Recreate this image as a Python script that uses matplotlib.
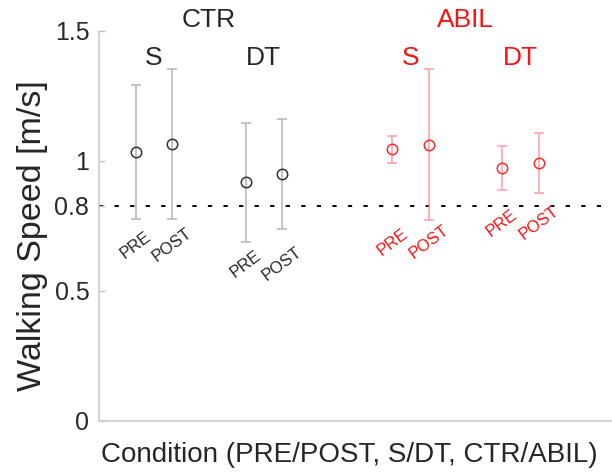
import matplotlib.pyplot as plt
import numpy as np

plt.rcParams['font.family'] = ['Liberation Sans', 'DejaVu Sans']

# data (walking speed, m/s)
groups = ['CTR', 'ABIL']
tasks = ['S', 'DT']
sessions = ['PRE', 'POST']
ctr_mean = [1.035, 1.064, 0.918, 0.950]
ctr_err = [0.257, 0.289, 0.229, 0.210]
abil_mean = [1.045, 1.063, 0.972, 0.993]
abil_err = [0.052, 0.289, 0.085, 0.115]
threshold = 0.827
ytick_vals = [0, 0.5, threshold, 1, 1.5]
ytick_labels = ['0', '0.5', '0.8', '1', '1.5']

# layout
group_x = [np.array([0, 1, 3, 4]), np.array([7, 8, 10, 11])]
marker_cols = ['#333333', '#ff2a2a']
err_cols = ['#b4b4b4', '#ff9c9c']
text_cols = ['#262626', '#ff1010']
session_label_y = [[0.677, 0.604], [0.688, 0.762]]

fig = plt.figure(figsize=(6.12, 4.72), dpi=100)
ax = fig.add_axes([99 / 612, 51 / 472, 513 / 612, 390 / 472])

ax.axhline(threshold, color='black', lw=1.4, linestyle=(0, (2.2, 5.8)), zorder=1)

for g, (means, errs) in enumerate([(ctr_mean, ctr_err), (abil_mean, abil_err)]):
    x = group_x[g]
    ax.errorbar(x, means, yerr=errs, fmt='o', mfc='none', mec=marker_cols[g],
                mew=1.1, markersize=7.5, ecolor=err_cols[g], elinewidth=1.1,
                capsize=3.5, capthick=1.1, zorder=3)
    ax.text(x.mean(), 1.515, groups[g], ha='center', va='baseline',
            fontsize=19, color=text_cols[g], clip_on=False)
    for t in range(2):
        pair = x[2 * t:2 * t + 2]
        ax.text(pair.mean(), 1.368, tasks[t], ha='center', va='baseline',
                fontsize=19, color=text_cols[g])
        for s in range(2):
            ax.text(pair[s], session_label_y[g][t], sessions[s], rotation=37,
                    ha='center', va='center', fontsize=12, color=text_cols[g])

ax.set_xlim(-1, 13)
ax.set_ylim(0, 1.5)
ax.set_xticks([])
ax.set_yticks(ytick_vals)
ax.set_yticklabels(ytick_labels)
ax.tick_params(axis='y', direction='in', length=4, width=1, color='#c0c0c0',
               labelsize=18, labelcolor='#2a2a2a', pad=7)

for side in ['top', 'right']:
    ax.spines[side].set_visible(False)
for side in ['left', 'bottom']:
    ax.spines[side].set_color('#c8c8c8')
    ax.spines[side].set_linewidth(1.1)

ax.set_ylabel('Walking Speed [m/s]', fontsize=24.5, color='#262626')
ax.yaxis.set_label_coords(-0.1, 0.476)
ax.set_xlabel('Condition (PRE/POST, S/DT, CTR/ABIL)', fontsize=20, color='#262626')
ax.xaxis.set_label_coords(0.488, -0.053)

plt.savefig('out.png', dpi=100)
plt.close()
